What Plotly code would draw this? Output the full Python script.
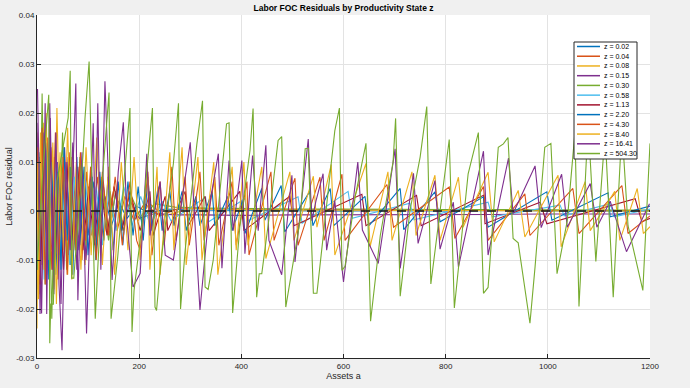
import plotly.graph_objects as go

# ---------------- data ----------------
z_labels = ["z = 0.02", "z = 0.04", "z = 0.08", "z = 0.15", "z = 0.30", "z = 0.58",
            "z = 1.13", "z = 2.20", "z = 4.30", "z = 8.40", "z = 16.41", "z = 504.30"]

a_z002 = [0, 5, 11, 17, 24, 30, 37, 44, 51, 58, 66, 74, 82, 91, 100, 110, 121, 133, 146, 160, 176, 195,
          220, 250, 300, 400, 500, 600, 700, 800, 900, 1000, 1100, 1200]
r_z002 = [-0.016, 0.011, -0.009, 0.014, -0.012, 0.006, -0.013, 0.009, -0.007, 0.010, -0.011, 0.004, -0.008,
          0.007, -0.005, 0.006, -0.004, 0.003, -0.003, 0.002, -0.0015, 0.001, -0.0005, 0.0004, 0.0002,
          0.0001, 0.0001, 0.0, 0.0001, 0.0, 0.0001, 0.0, 0.0, 0.0]

a_z004 = [0, 4, 9, 15, 21, 28, 34, 41, 48, 55, 63, 71, 79, 88, 97, 107, 118, 130, 143, 157, 172, 190,
          210, 240, 280, 350, 450, 550, 650, 750, 850, 950, 1050, 1200]
r_z004 = [0.016, -0.017, 0.012, -0.010, 0.015, -0.008, 0.011, -0.014, 0.009, -0.006, 0.012, -0.009, 0.006,
          -0.010, 0.008, -0.005, 0.007, -0.006, 0.004, -0.004, 0.003, -0.002, 0.0015, -0.001, 0.0006,
          0.0004, 0.0003, 0.0003, 0.0002, 0.0002, 0.0002, 0.0001, 0.0001, 0.0001]

a_z008 = [0, 3, 8, 13, 19, 26, 33, 39, 46, 53, 60, 68, 76, 85, 94, 104, 115, 126, 138, 151, 165, 180,
          198, 220, 250, 300, 380, 480, 600, 720, 850, 1000, 1200]
r_z008 = [-0.024, 0.013, -0.011, 0.018, -0.009, 0.012, -0.016, 0.021, -0.010, 0.008, -0.013, 0.011, -0.007,
          0.009, -0.011, 0.006, -0.006, 0.007, -0.004, 0.005, -0.003, 0.003, -0.002, 0.0015, -0.001,
          0.0005, 0.0003, 0.0002, 0.0002, 0.0001, 0.0001, 0.0001, 0.0]

a_z015 = [0, 6, 12, 19, 26, 33, 40, 47, 54, 62, 70, 78, 87, 96, 106, 117, 129, 141, 154, 168, 183, 200,
          230, 270, 320, 400, 500, 600, 700, 800, 900, 1000, 1100, 1200]
r_z015 = [0.018, -0.021, 0.016, -0.013, 0.019, -0.017, 0.010, -0.019, 0.013, -0.009, 0.014, -0.012, 0.008,
          -0.010, 0.009, -0.007, 0.006, -0.005, 0.004, -0.003, 0.002, -0.0015, -0.0005, -0.0008, -0.0008,
          -0.0009, -0.0008, -0.0008, -0.0007, -0.0007, -0.0007, -0.0006, -0.0006, -0.0006]

a_z030 = [0, 5, 10, 16, 22, 29, 36, 43, 50, 58, 66, 75, 84, 94, 104, 115, 127, 140, 154, 169, 185, 205,
          230, 270, 330, 400, 500, 600, 700, 800, 900, 1000, 1100, 1200]
r_z030 = [0.009, -0.013, 0.024, -0.015, 0.012, -0.022, 0.014, -0.010, 0.016, -0.012, 0.009, -0.008, 0.011,
          -0.007, 0.006, -0.009, 0.005, -0.006, 0.004, -0.004, 0.003, -0.002, 0.0015, 0.0008, 0.0006,
          0.0005, 0.0004, 0.0004, 0.0003, 0.0003, 0.0003, 0.0002, 0.0002, 0.0002]

a_z058 = [0, 7, 14, 22, 30, 38, 46, 55, 64, 73, 83, 93, 104, 116, 128, 141, 155, 170, 186, 203, 222,
          245, 262, 330, 336, 407, 413, 511, 519, 609, 617, 730, 738, 883, 891, 1024, 1032, 1122, 1130, 1200]
r_z058 = [-0.010, 0.012, -0.014, 0.008, -0.007, 0.011, -0.009, 0.006, -0.011, 0.007, -0.005, 0.009, -0.006,
          0.005, -0.007, 0.004, -0.004, 0.005, -0.003, 0.003, -0.003, 0.002, -0.002, 0.0028, -0.0022,
          0.0025, -0.002, 0.0029, -0.0025, 0.004, -0.0015, 0.0016, -0.0018, 0.0018, -0.0012, 0.0012,
          -0.001, 0.0015, -0.0012, 0.0004]

a_z113 = [0, 6, 13, 20, 27, 35, 43, 52, 61, 70, 80, 90, 101, 112, 124, 137, 151, 166, 182,
          202, 221, 227, 251, 256, 290, 296, 329, 337, 397, 405, 495, 503, 636, 644, 743, 752,
          874, 877, 985, 998, 1171, 1184, 1200]
r_z113 = [0.012, -0.015, 0.010, -0.008, 0.013, -0.011, 0.007, -0.012, 0.011, -0.006, 0.009, -0.008, 0.005,
          -0.007, 0.006, -0.005, 0.005, -0.004, 0.004,
          -0.004, 0.004, -0.005, 0.003, -0.004, 0.004, -0.003, 0.003, -0.004, 0.004, -0.004, 0.003, -0.003,
          0.0034, -0.003, 0.0032, -0.003, 0.0032, -0.0026, 0.0018, -0.0026, 0.0025, -0.0022, -0.0015]

a_z220 = [0, 6, 12, 18, 23, 29, 35, 41, 47, 53, 59, 65, 70, 78, 84, 92, 100, 108, 115, 123, 131, 139,
          149, 159, 168, 178, 188, 198, 208, 217, 225, 237, 245, 260, 268, 284, 292, 311, 319, 343, 348,
          374, 382, 402, 407, 440, 446, 478, 485, 534, 540, 574, 581, 642, 650, 711, 718, 779, 789,
          874, 883, 998, 1008, 1118, 1122, 1200]
r_z220 = [-0.012, 0.012, -0.008, 0.014, -0.014, 0.010, -0.010, 0.008, -0.012, 0.013, -0.006, 0.009,
          -0.013, 0.011, -0.007, 0.009, -0.009, 0.007, -0.010, 0.008, -0.006, 0.007, -0.008, 0.006,
          -0.007, 0.006, -0.005, 0.005, -0.006, 0.007, -0.004, 0.005, -0.004, 0.004, -0.003, 0.004,
          -0.004, 0.003, -0.003, 0.004, -0.003, 0.003, -0.004, 0.002, -0.0046, 0.0046, -0.0019, 0.0052,
          -0.0043, 0.004, -0.003, 0.0046, -0.003, 0.003, -0.003, 0.0046, -0.0038, 0.0039, -0.0022,
          0.0029, -0.0033, 0.0039, -0.0019, 0.0037, -0.0012, 0.001]

a_z430 = [0, 4, 10, 16, 22, 29, 36, 43, 51, 59, 67, 76, 85, 95, 105, 116, 128, 140, 153, 167, 182, 195,
          202, 217, 225, 241, 249, 264, 272, 290, 298, 319, 327, 348, 356, 382, 390, 411, 415, 458, 464,
          505, 511, 554, 562, 597, 603, 685, 698, 807, 818, 874, 883, 955, 965, 1049, 1061, 1145, 1157, 1200]
r_z430 = [0.013, -0.010, 0.017, -0.015, 0.008, -0.012, 0.016, -0.009, 0.011, -0.013, 0.007, -0.008,
          0.012, -0.006, 0.009, -0.010, 0.008, -0.005, 0.007, -0.007, 0.006, -0.006,
          -0.008, 0.008, -0.009, 0.006, -0.007, 0.009, -0.006, 0.007, -0.007, 0.008, -0.006, 0.007,
          -0.007, 0.006, -0.007, 0.006, -0.009, 0.008, -0.006, 0.0067, -0.007, 0.0069, -0.006, 0.0075,
          -0.006, 0.0054, -0.0033, 0.0049, -0.0056, 0.005, -0.006, 0.0035, -0.005, 0.0046, -0.0046,
          0.0052, -0.0046, -0.001]

a_z840 = [0, 3, 7, 12, 18, 24, 31, 38, 45, 52, 60, 68, 77, 86, 96, 106, 117, 128, 140, 152, 165, 178, 190,
          202, 216, 221, 235, 241, 260, 268, 284, 292, 315, 323, 346, 354, 382, 390, 405, 413, 440, 448,
          495, 503, 541, 548, 576, 583, 644, 652, 687, 695, 734, 742, 779, 789, 825, 834, 883, 895,
          942, 955, 1020, 1026, 1073, 1083, 1131, 1141, 1175, 1187, 1200]
r_z840 = [0.010, -0.018, 0.016, -0.012, 0.020, -0.010, 0.014, -0.019, 0.012, -0.008, 0.017, -0.014,
          0.010, -0.012, 0.013, -0.009, 0.015, -0.011, 0.009, -0.013, 0.010, -0.008, 0.011,
          -0.010, 0.010, -0.012, 0.009, -0.013, 0.012, -0.008, 0.013, -0.011, 0.011, -0.010, 0.010,
          -0.013, 0.009, -0.008, 0.010, -0.007, 0.009, -0.0097, 0.008, -0.006, 0.0071, -0.0033, 0.0095,
          -0.009, 0.0097, -0.0073, 0.008, -0.006, 0.008, -0.005, 0.0073, -0.006, 0.0069, -0.0033,
          0.0079, -0.0063, 0.0042, -0.0053, 0.0073, -0.0073, 0.006, -0.004, 0.004, -0.006, 0.0046,
          -0.0046, -0.0032]

a_z1641 = [1, 9, 16, 19, 25, 31, 37, 43, 49, 57, 65, 76, 80, 88, 97, 110, 114, 119, 125, 133, 147, 159,
           169, 176, 188, 202, 215, 221, 241, 251, 267, 300, 319, 339, 355, 362, 376, 384, 401, 407, 422,
           433, 448, 454, 479, 499, 505, 531, 538, 546, 560, 567, 583, 600, 628, 637, 668, 701, 711, 737,
           746, 779, 789, 815, 825, 874, 883, 923, 932, 975, 987, 1027, 1038, 1083, 1096, 1122, 1154, 1199]
r_z1641 = [0.0249, -0.0209, 0.022, -0.021, 0.022, -0.012, 0.016, -0.015, -0.0284, 0.010, -0.008, 0.026,
           -0.0182, 0.012, -0.025, 0.0179, -0.005, 0.022, -0.012, 0.0265, -0.0141, 0.008, 0.0181, -0.002,
           -0.0155, -0.0127, 0.0117, -0.005, 0.006, -0.009, -0.010, 0.014, -0.0202, 0.002, 0.0117,
           -0.0117, 0.0103, -0.004, 0.0103, -0.0087, 0.0113, -0.004, 0.0134, -0.006, -0.013, 0.0073,
           -0.0104, 0.0147, -0.002, 0.002, 0.0076, -0.008, 0.002, -0.0145, 0.010, -0.0039, -0.0107,
           0.0127, -0.0117, 0.0077, -0.0066, 0.0062, -0.0078, 0.0018, -0.0114, 0.0122, -0.009, 0.0108,
           -0.0005, 0.0092, -0.0034, 0.0075, -0.0033, 0.0056, -0.0033, 0.002, -0.0083, 0.0015]

a_z50430 = [0, 10, 23, 25, 27, 32, 39, 53, 61, 65, 68, 72, 90, 94, 102, 114, 127, 141, 145, 158, 182, 186,
            190, 205, 226, 231, 234, 241, 251, 267, 277, 281, 290, 313, 324, 329, 335, 345, 371, 376, 383,
            397, 417, 423, 430, 435, 440, 456, 472, 479, 487, 515, 525, 531, 541, 548, 564, 583, 592, 597,
            603, 623, 644, 653, 672, 697, 702, 711, 730, 750, 763, 771, 789, 807, 817, 844, 864, 874, 883,
            903, 913, 922, 932, 942, 965, 975, 994, 1006, 1018, 1038, 1053, 1061, 1079, 1094, 1112, 1128,
            1145, 1157, 1186, 1200]
r_z50430 = [-0.012, 0.006, 0.0237, -0.027, -0.019, -0.019, 0.006, 0.0138, 0.019, 0.0286, -0.0137, -0.0137,
            0.0113, 0.019, 0.0305, -0.022, 0.005, 0.0242, -0.022, -0.0094, 0.021, -0.0247, -0.0162, -0.0033,
            0.021, -0.0196, -0.0203, -0.012, -0.003, 0.0097, 0.022, -0.020, -0.008, 0.0137, 0.0225, -0.0155,
            -0.016, -0.010, 0.0178, 0.018, -0.0208, -0.0033, 0.0124, 0.0209, -0.0176, -0.0128, -0.0128, 0.0,
            0.0144, 0.0152, -0.0196, -0.002, 0.0127, 0.0128, -0.0168, -0.0168, -0.0019, 0.0164, 0.021,
            -0.0121, -0.0113, 0.003, 0.0138, -0.0225, -0.005, 0.010, 0.0189, -0.0174, 0.0, 0.011, 0.0213,
            -0.0149, 0.0, 0.0146, -0.0198, 0.0076, 0.016, -0.0168, -0.0156, 0.013, 0.0137, 0.015, -0.0056,
            -0.0065, -0.0229, -0.0114, 0.013, 0.0138, -0.0128, -0.002, 0.016, -0.0195, 0.018, -0.0103,
            0.016, -0.0176, 0.017, -0.003, -0.0162, 0.0138]

assets = [a_z002, a_z004, a_z008, a_z015, a_z030, a_z058, a_z113, a_z220, a_z430, a_z840, a_z1641, a_z50430]
resid = [r_z002, r_z004, r_z008, r_z015, r_z030, r_z058, r_z113, r_z220, r_z430, r_z840, r_z1641, r_z50430]

x_ticks = [0, 200, 400, 600, 800, 1000, 1200]
y_ticks = [-0.03, -0.02, -0.01, 0, 0.01, 0.02, 0.03, 0.04]
y_ticktext = ["-0.03", "-0.02", "-0.01", "0", "0.01", "0.02", "0.03", "0.04"]

# ---------------- styling ----------------
colors = ["#0072BD", "#D95319", "#EDB120", "#7E2F8E", "#77AC30", "#4DBEEE", "#A2142F",
          "#0072BD", "#D95319", "#EDB120", "#7E2F8E", "#77AC30"]
FONT = "Liberation Sans, Arial, Helvetica, sans-serif"
W, H = 690, 388
L, R, T, B = 37, 40, 15, 30   # plot area: x 37..650, y 15..358

fig = go.Figure()
for xs, ys, c, name in zip(assets, resid, colors, z_labels):
    fig.add_trace(go.Scatter(x=xs, y=ys, mode="lines", name=name,
                             line=dict(color=c, width=1.1), showlegend=False, hoverinfo="skip"))

# zero reference line (dashed black)
fig.add_trace(go.Scatter(x=[0, 1200], y=[0, 0], mode="lines", showlegend=False,
                         line=dict(color="#1a1a1a", width=1.5, dash="dash"), hoverinfo="skip"))

axis_common = dict(showgrid=True, gridcolor="#E3E3E3", gridwidth=1, zeroline=False,
                   showline=True, linecolor="#262626", linewidth=1, automargin=False,
                   ticks="inside", ticklen=4, tickcolor="#262626",
                   tickfont=dict(family=FONT, size=8, color="#262626"))

fig.update_layout(
    width=W, height=H,
    paper_bgcolor="#F0F0F0", plot_bgcolor="#FFFFFF",
    margin=dict(l=L, r=R, t=T, b=B, autoexpand=False),
    title=dict(text="<b>Labor FOC Residuals by Productivity State z</b>",
               font=dict(family=FONT, size=8.5, color="#000000"),
               x=(L + (W - L - R) / 2) / W, xanchor="center", y=1 - 8 / H, yanchor="middle"),
    xaxis=dict(range=[0, 1200], tickvals=x_ticks, title=dict(text="Assets a", standoff=2,
               font=dict(family=FONT, size=9, color="#262626")), **axis_common),
    yaxis=dict(range=[-0.03, 0.04], tickvals=y_ticks, ticktext=y_ticktext,
               title=dict(text="Labor FOC residual", standoff=2,
                          font=dict(family=FONT, size=9, color="#262626")), **axis_common),
    showlegend=False,
    hovermode=False,
)

# ---------------- legend box (drawn in paper coordinates) ----------------
pw, ph = W - L - R, H - T - B
def px2paper(px, py):
    return (px - L) / pw, (H - B - py) / ph

x0, y0 = px2paper(574, 42)
x1, y1 = px2paper(637, 159)
fig.add_shape(type="rect", xref="paper", yref="paper", x0=x0, y0=y1, x1=x1, y1=y0,
              line=dict(color="#262626", width=1), fillcolor="#FFFFFF", layer="above")
row_h = 9.73
for i, (name, c) in enumerate(zip(z_labels, colors)):
    py = 46.5 + i * row_h
    lx0, ly = px2paper(577, py)
    lx1, _ = px2paper(600, py)
    tx, _ = px2paper(602, py)
    fig.add_shape(type="line", xref="paper", yref="paper", x0=lx0, x1=lx1, y0=ly, y1=ly,
                  line=dict(color=c, width=1.5), layer="above")
    fig.add_annotation(x=tx, y=ly, xref="paper", yref="paper", text=name, showarrow=False,
                       xanchor="left", yanchor="middle",
                       font=dict(family=FONT, size=7, color="#000000"))

fig.write_html("out.html", config={"displayModeBar": False, "staticPlot": True},
               post_script="document.body.style.margin='0';document.body.style.overflow='hidden';")
